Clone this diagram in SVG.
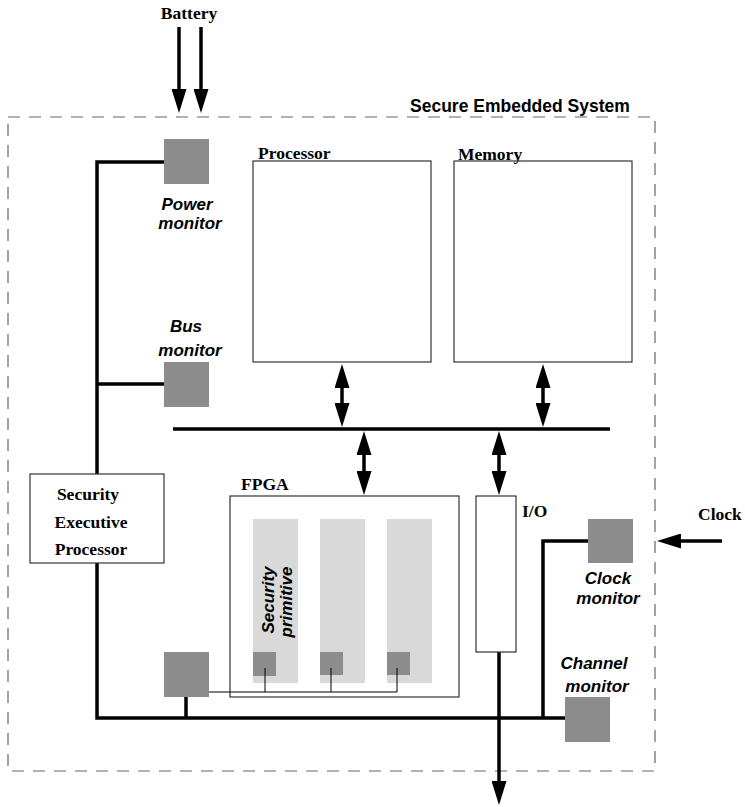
<svg xmlns="http://www.w3.org/2000/svg" width="745" height="807" viewBox="0 0 745 807">
<style>
.serif{font-family:"Liberation Serif","Times New Roman",serif;font-weight:bold;font-size:17.5px;fill:#000}
.sans{font-family:"Liberation Sans",Arial,sans-serif;font-weight:bold;font-size:17.5px;fill:#000}
.it{font-family:"Liberation Sans",Arial,sans-serif;font-weight:bold;font-style:italic;font-size:17px;fill:#000}
.box{fill:#fff;stroke:#333;stroke-width:1.2}
.mon{fill:#8c8c8c}
.col{fill:#d9d9d9}
.thick{stroke:#000;stroke-width:3.5;fill:none}
.thin{stroke:#000;stroke-width:1;fill:none}
.arr{stroke:#000;stroke-width:3.5;fill:none;marker-end:url(#ah)}
.darr{stroke:#000;stroke-width:3.5;fill:none;marker-end:url(#ah);marker-start:url(#ah)}
</style>
<defs>
<marker id="ah" markerUnits="userSpaceOnUse" markerWidth="24" markerHeight="15" refX="14" refY="7.5" orient="auto-start-reverse" viewBox="0 0 24 15">
<path d="M0,0 L24,7.5 L0,15 z" fill="#000"/>
</marker>
</defs>
<rect width="745" height="807" fill="#fff"/>
<g id="system">
<rect x="8" y="117" width="647" height="654" fill="none" stroke="#666" stroke-width="1.2" stroke-dasharray="12 9"/>
<text class="sans" x="410" y="112">Secure Embedded System</text>
</g>
<g id="battery"><text class="serif" x="189" y="19" text-anchor="middle">Battery</text></g>
<g id="clock"><text class="serif" x="698" y="520">Clock</text></g>
<g id="processor">
<rect class="box" x="253" y="161" width="178" height="201"/>
<text class="serif" x="258" y="159">Processor</text>
</g>
<g id="memory">
<rect class="box" x="454" y="161" width="178" height="201"/>
<text class="serif" x="458" y="160">Memory</text>
</g>
<g id="connectors">
<polyline class="thick" points="164,162 97,162 97,718 565,718"/>
<line class="thick" x1="97" y1="384" x2="164" y2="384"/>
<line class="thick" x1="186" y1="697" x2="186" y2="718"/>
<polyline class="thick" points="588,541 543,541 543,718"/>
<line class="thick" x1="173" y1="429" x2="610" y2="429"/>
<line class="arr" x1="179" y1="27" x2="179" y2="103"/>
<line class="arr" x1="201" y1="27" x2="201" y2="103"/>
<line class="darr" x1="342" y1="374" x2="342" y2="417"/>
<line class="darr" x1="543" y1="374" x2="543" y2="417"/>
<line class="darr" x1="364" y1="441" x2="364" y2="485"/>
<line class="darr" x1="499" y1="441" x2="499" y2="485"/>
<line class="arr" x1="499" y1="652" x2="499" y2="795"/>
<line class="arr" x1="722" y1="541" x2="667" y2="541"/>
</g>
<g id="power-monitor">
<rect class="mon" x="164" y="139" width="45" height="45"/>
<text class="it" x="187" y="210" text-anchor="middle">Power</text>
<text class="it" x="190" y="229" text-anchor="middle">monitor</text>
</g>
<g id="bus-monitor">
<rect class="mon" x="164" y="362" width="45" height="45"/>
<text class="it" x="186" y="332" text-anchor="middle">Bus</text>
<text class="it" x="190" y="356" text-anchor="middle">monitor</text>
</g>
<g id="sep">
<rect class="box" x="30" y="474" width="134" height="89"/>
<text class="serif" x="88" y="500" text-anchor="middle">Security</text>
<text class="serif" x="91" y="528" text-anchor="middle">Executive</text>
<text class="serif" x="91" y="555" text-anchor="middle">Processor</text>
</g>
<g id="fpga">
<rect class="box" x="230" y="496" width="229" height="201"/>
<text class="serif" x="241" y="490">FPGA</text>
<rect class="col" x="253" y="519" width="45" height="164"/>
<rect class="col" x="320" y="519" width="45" height="164"/>
<rect class="col" x="387" y="519" width="45" height="164"/>
<text class="it" transform="translate(274,600) rotate(-90)" text-anchor="middle">Security</text>
<text class="it" transform="translate(292,602) rotate(-90)" text-anchor="middle">primitive</text>
<rect class="mon" x="253" y="652" width="23" height="24"/>
<rect class="mon" x="320" y="652" width="23" height="23"/>
<rect class="mon" x="387" y="652" width="23" height="23"/>
<polyline class="thin" points="209,692 397,692 397,668"/>
<line class="thin" x1="265" y1="668" x2="265" y2="692"/>
<line class="thin" x1="331" y1="668" x2="331" y2="692"/>
</g>
<g id="fpga-monitor"><rect class="mon" x="164" y="652" width="45" height="45"/></g>
<g id="io">
<rect class="box" x="476" y="496" width="40" height="156"/>
<text class="serif" x="522" y="517">I/O</text>
</g>
<g id="clock-monitor">
<rect class="mon" x="588" y="519" width="45" height="44"/>
<text class="it" x="608" y="584" text-anchor="middle">Clock</text>
<text class="it" x="608" y="604" text-anchor="middle">monitor</text>
</g>
<g id="channel-monitor">
<rect class="mon" x="565" y="697" width="45" height="45"/>
<text class="it" x="594" y="669" text-anchor="middle">Channel</text>
<text class="it" x="597" y="692" text-anchor="middle">monitor</text>
</g>
</svg>
